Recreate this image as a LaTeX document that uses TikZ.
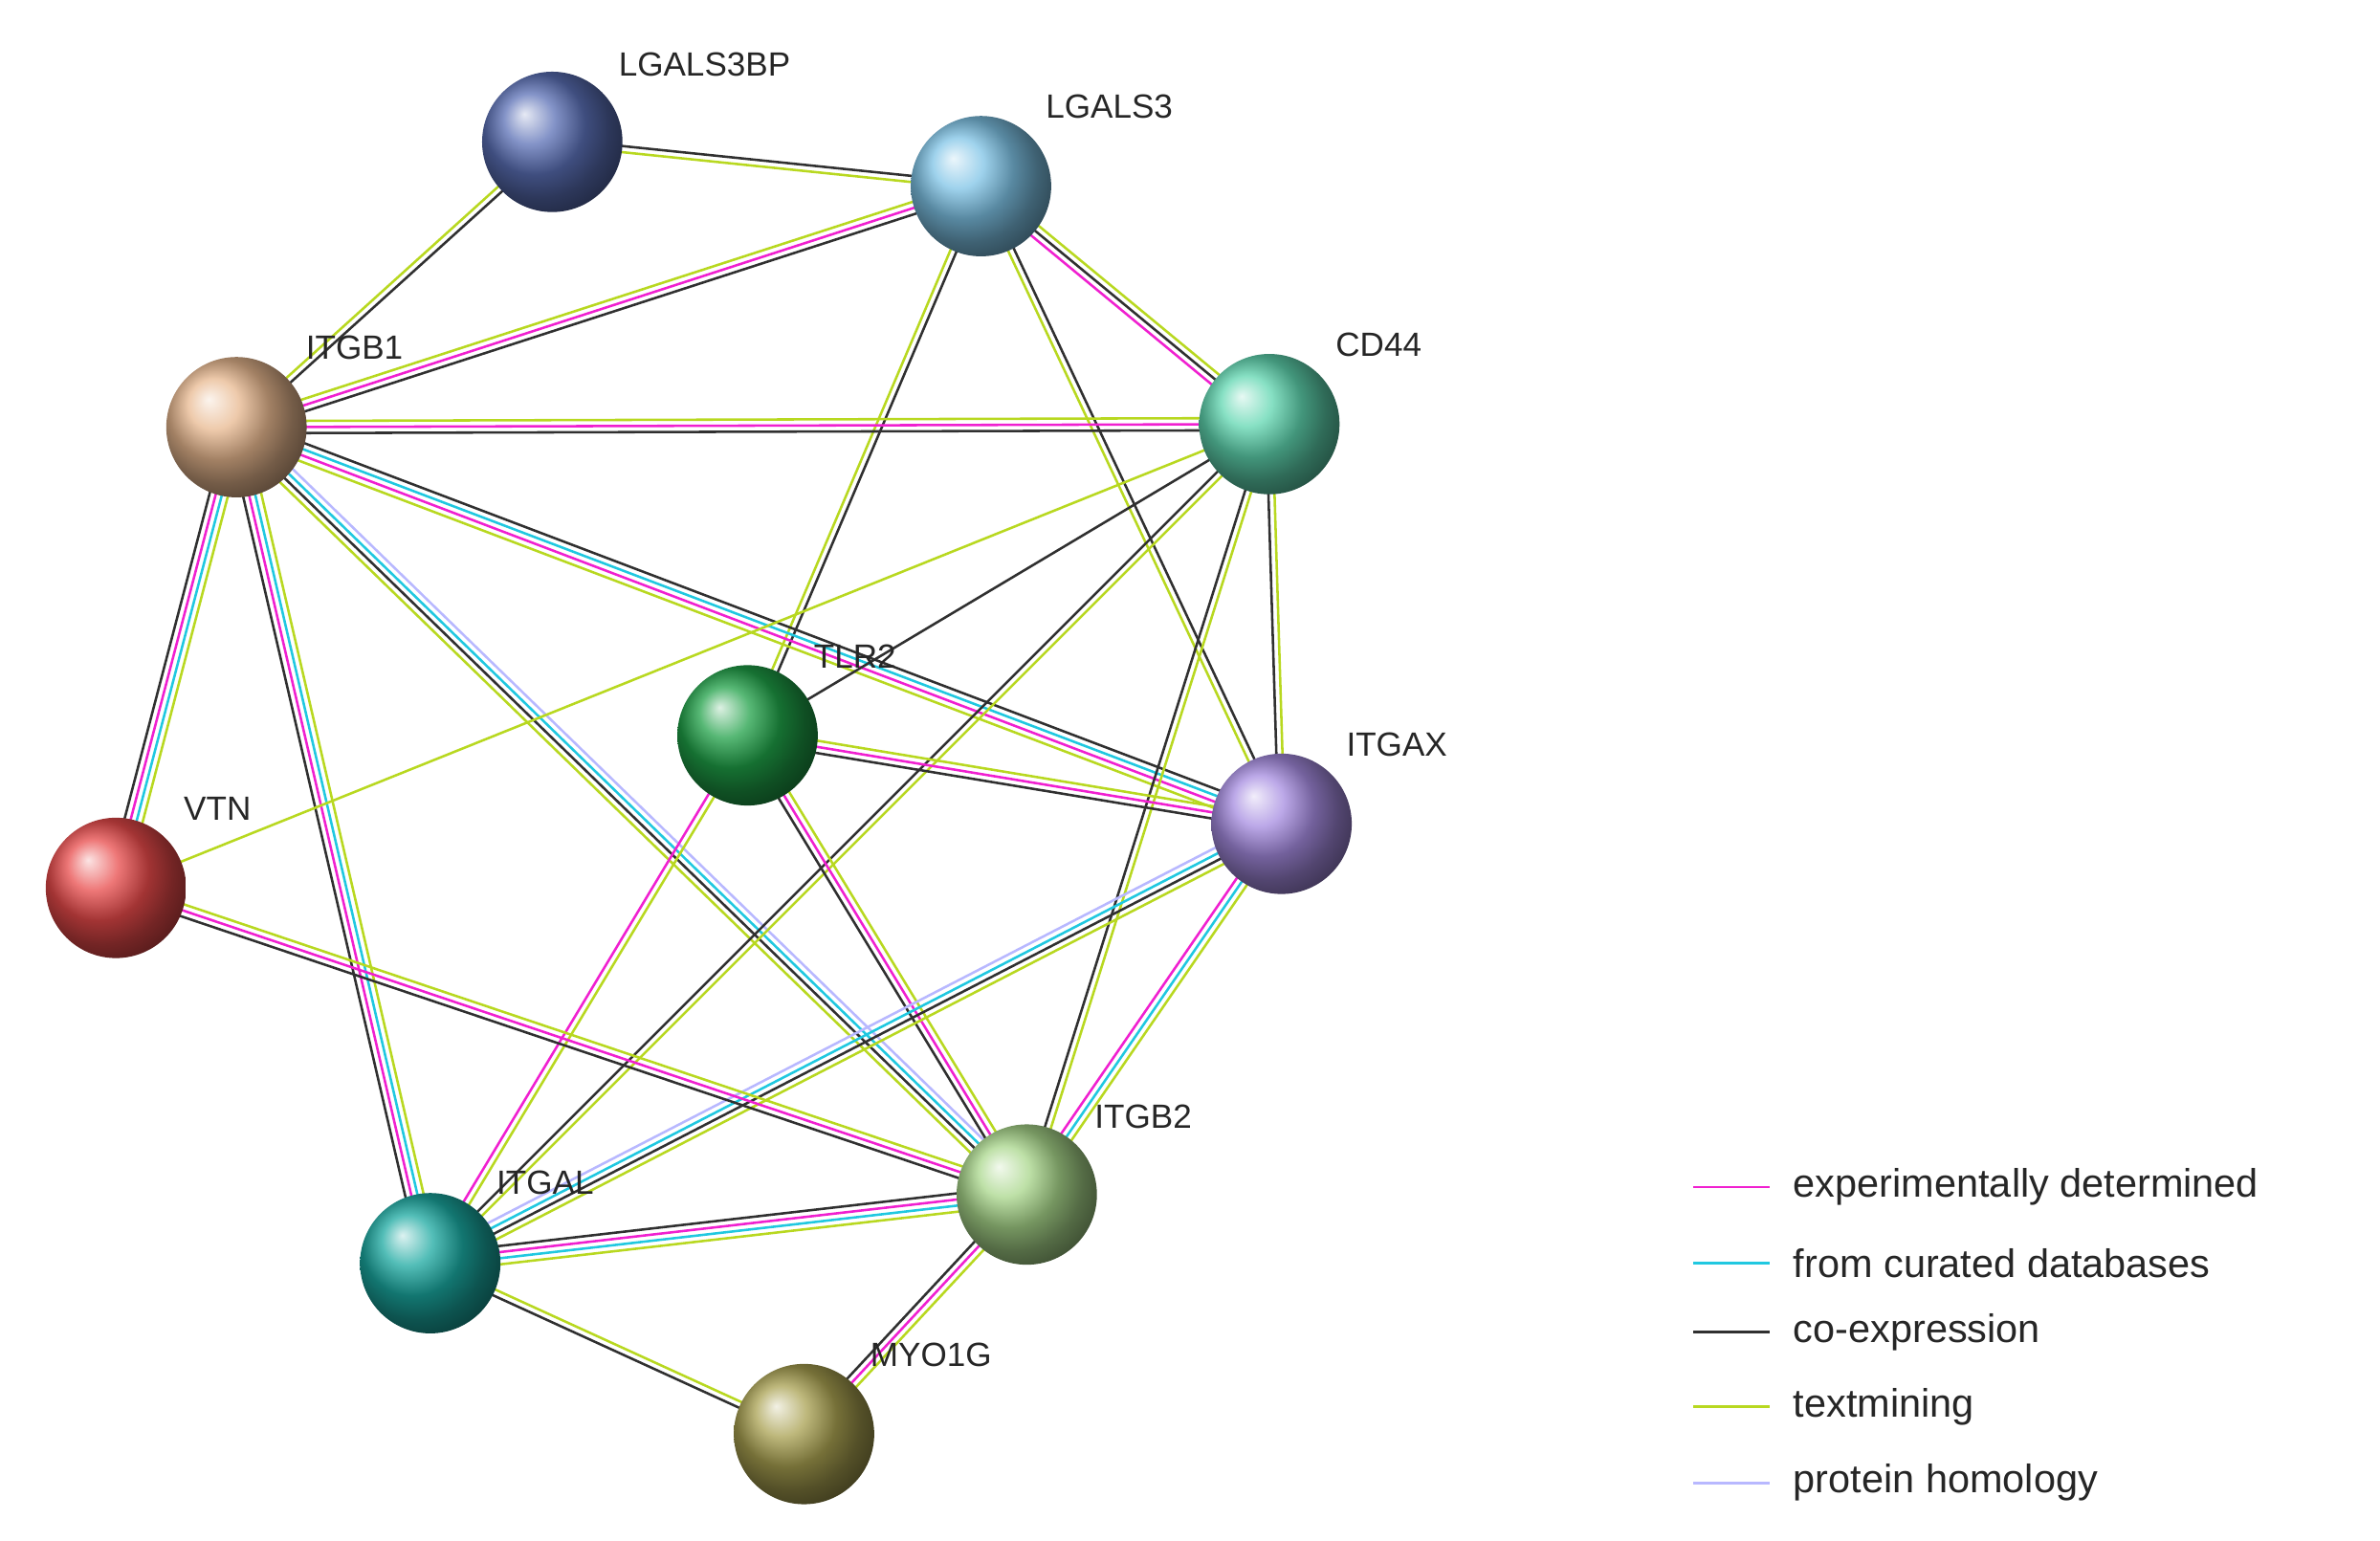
\documentclass[tikz,border=0pt]{standalone}
\usepackage{fontspec}
\setmainfont{Liberation Sans}
\usetikzlibrary{calc}
\definecolor{cE}{HTML}{F020D0}
\definecolor{cC}{HTML}{20C8E0}
\definecolor{cK}{HTML}{303030}
\definecolor{cT}{HTML}{B8D820}
\definecolor{cH}{HTML}{B8B8FF}
\definecolor{b1}{RGB}{90,111,181}
\definecolor{b2}{RGB}{126,195,230}
\definecolor{b3}{RGB}{232,184,143}
\definecolor{b4}{RGB}{95,214,176}
\definecolor{b5}{RGB}{31,160,71}
\definecolor{b6}{RGB}{165,139,224}
\definecolor{b7}{RGB}{232,74,74}
\definecolor{b8}{RGB}{168,214,138}
\definecolor{b9}{RGB}{26,168,160}
\definecolor{b10}{RGB}{168,160,80}
\newcommand\myln[4]{\draw[#1,line width=1.6pt] ($(#2)!#4!90:(#3)$) -- ($(#3)!#4!-90:(#2)$);}
\newcommand\eII[4]{\myln{#3}{#1}{#2}{-2pt}\myln{#4}{#1}{#2}{2pt}}
\newcommand\eIII[5]{\myln{#3}{#1}{#2}{-4pt}\myln{#4}{#1}{#2}{0pt}\myln{#5}{#1}{#2}{4pt}}
\newcommand\eIV[6]{\myln{#3}{#1}{#2}{-6pt}\myln{#4}{#1}{#2}{-2pt}\myln{#5}{#1}{#2}{2pt}\myln{#6}{#1}{#2}{6pt}}
\tikzset{ball/.style={circle,minimum size=92pt,inner sep=0pt,ball color=#1,draw=none},
lab/.style={anchor=west,font=\fontsize{22}{24}\selectfont,text=black!85},
leg/.style={anchor=west,font=\fontsize{26}{28}\selectfont,text=black!85}}
\begin{document}
\begin{tikzpicture}[x=1pt,y=-1pt]
\useasboundingbox (0,0) rectangle (1560,1010);
\coordinate (a) at (362,93);
\coordinate (b) at (643,122);
\coordinate (c) at (155,280);
\coordinate (d) at (832,278);
\coordinate (e) at (490,482);
\coordinate (f) at (840,540);
\coordinate (g) at (76,582);
\coordinate (h) at (673,783);
\coordinate (i) at (282,828);
\coordinate (j) at (527,940);
\eII{a}{b}{cT}{cK}
\eII{a}{c}{cT}{cK}
\eIII{b}{c}{cT}{cE}{cK}
\eIII{b}{d}{cE}{cK}{cT}
\eII{b}{e}{cT}{cK}
\eII{b}{f}{cT}{cK}
\eIII{c}{d}{cK}{cE}{cT}
\eIV{c}{f}{cT}{cE}{cC}{cK}
\eIV{c}{h}{cT}{cK}{cC}{cH}
\eIV{c}{g}{cK}{cE}{cC}{cT}
\eIV{c}{i}{cK}{cE}{cC}{cT}
\myln{cT}{d}{g}{0pt}
\myln{cK}{d}{e}{0pt}
\eII{d}{i}{cK}{cT}
\eII{d}{h}{cK}{cT}
\eII{d}{f}{cK}{cT}
\eIII{e}{f}{cK}{cE}{cT}
\eIII{e}{h}{cK}{cE}{cT}
\eII{e}{i}{cE}{cT}
\eIV{f}{i}{cH}{cC}{cK}{cT}
\eIII{f}{h}{cE}{cC}{cT}
\eIV{h}{i}{cK}{cE}{cC}{cT}
\eIII{g}{h}{cK}{cE}{cT}
\eIII{h}{j}{cK}{cE}{cT}
\eII{i}{j}{cK}{cT}
\node[ball=b1] (n1) at (a) {};
\node[ball=b2] (n2) at (b) {};
\node[ball=b3] (n3) at (c) {};
\node[ball=b4] (n4) at (d) {};
\node[ball=b5] (n5) at (e) {};
\node[ball=b6] (n6) at (f) {};
\node[ball=b7] (n7) at (g) {};
\node[ball=b8] (n8) at (h) {};
\node[ball=b9] (n9) at (i) {};
\node[ball=b10] (n10) at (j) {};
\node[lab] (l1) at (402,42) {LGALS3BP};
\node[lab] (l2) at (682,70) {LGALS3};
\node[lab] (l3) at (197,228) {ITGB1};
\node[lab] (l4) at (872,226) {CD44};
\node[lab] (l5) at (530,430) {TLR2};
\node[lab] (l6) at (879,488) {ITGAX};
\node[lab] (l7) at (117,530) {VTN};
\node[lab] (l8) at (714,732) {ITGB2};
\node[lab] (l9) at (322,775) {ITGAL};
\node[lab] (l10) at (567,888) {MYO1G};
\foreach \y/\c/\t [count=\k] in {778/cE/experimentally determined,828/cC/from curated databases,873/cK/co-expression,922/cT/textmining,972/cH/protein homology}{
 \coordinate (ls\k) at (1110,\y); \coordinate (le\k) at (1160,\y);
 \draw[\c,line width=1.6pt] (ls\k) -- (le\k);
 \node[leg] (lt\k) at (1172,\y) {\t};}
\end{tikzpicture}
\end{document}
